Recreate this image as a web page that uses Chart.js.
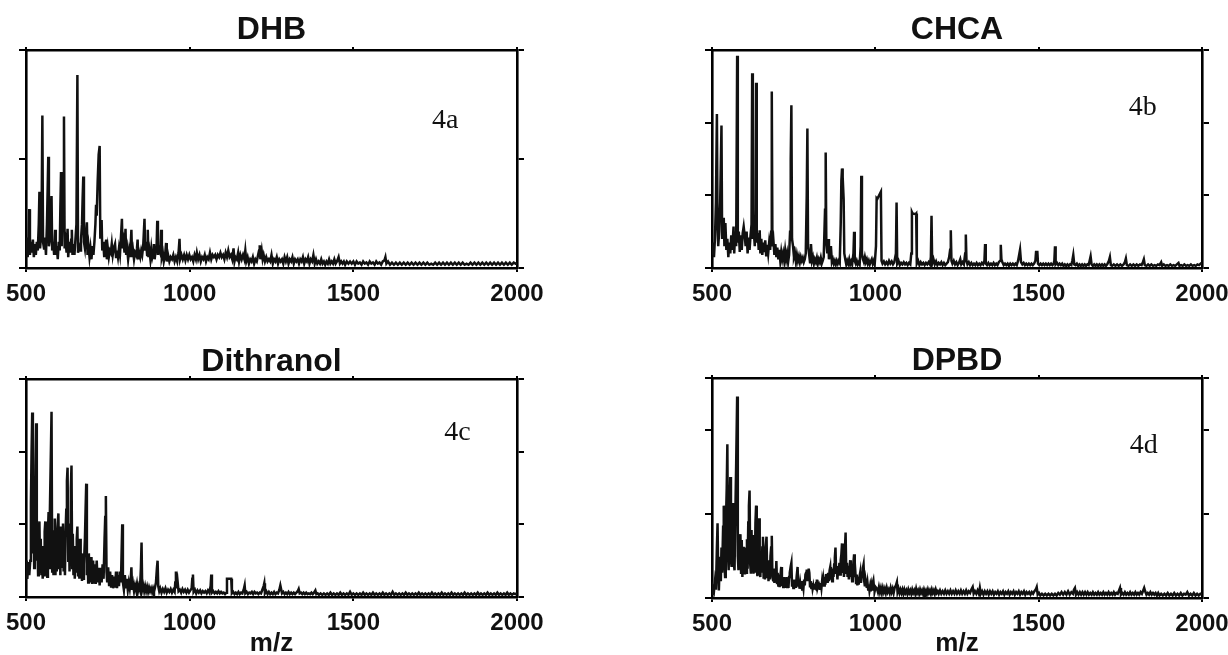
<!DOCTYPE html>
<html><head><meta charset="utf-8">
<script src="https://cdn.jsdelivr.net/npm/chart.js@4.4.1/dist/chart.umd.min.js"></script>
<style>
html,body{margin:0;padding:0;background:#fff;width:1228px;height:655px;overflow:hidden}
.p{position:absolute}
</style></head><body>
<div class="p" style="left:0;top:0;width:614px;height:327px"><canvas id="ca"></canvas></div>
<div class="p" style="left:614px;top:0;width:614px;height:327px"><canvas id="cb"></canvas></div>
<div class="p" style="left:0;top:327px;width:614px;height:328px"><canvas id="cc"></canvas></div>
<div class="p" style="left:614px;top:327px;width:614px;height:328px"><canvas id="cd"></canvas></div>
<script>
// ---- data (m/z, intensity) ----
const panelTitles = ['DHB', 'CHCA', 'Dithranol', 'DPBD'];
const panelTags = ['4a', '4b', '4c', '4d'];
const xTickValues = [500, 1000, 1500, 2000];
const yMaxes = [100, 3, 3, 2.62];
const ySteps = [50, 1, 1, 1];
const tagPositions = [[1781, 67.7], [1819, 2.2], [1818, 2.26], [1822, 1.82]];

const dhbSpectrum = [[500,8],[502,14],[505,5],[508,12],[510,27],[512,6],[515,12],[518,7],[521,13],[524,5],[527,11],[530,6],[533,12],[536,8],[539,20],[541,35],[543,9],[546,15],[548,30],[550,70],[552,12],[555,9],[558,14],[561,6],[564,20],[566,35],[568,51],[570,10],[573,13],[576,24],[578,33],[580,8],[583,12],[586,6],[589,17.5],[591,6],[594,10],[597,4],[600,12],[603,8],[605,28],[607,44],[609,10],[611,22],[614,40],[616,69.5],[618,9],[621,12],[624,7],[627,18],[629,5],[632,12],[635,7],[638,13],[640,17.5],[642,6],[645,11],[648,6],[651,13],[654,20],[657,88.5],[659,7],[662,10],[665,8],[668,13],[671,20],[673,32],[675,42],[677,12],[680,9],[683,15],[686,21],[688,6],[691,10],[694,5],[697,9],[700,4],[703,10],[706,6],[709,12],[712,20],[714,29],[716,24],[719,40],[722,52],[725,56],[727,14],[729,17],[731,22],[733,8],[736,12],[739,5],[742,10],[745,13],[747,4],[750,9],[753,5],[756,8],[759,7],[762,11],[765,6],[768,9],[772,11],[775,5],[778,8],[781,5],[784,9],[787,6],[790,14],[793,22.6],[795,9],[798,12],[801,7],[804,18],[806,6],[809,9],[812,4],[815,8],[818,5],[822,17.5],[824,5],[827,8],[830,4],[833,7],[836,6],[839,9],[841,13],[843,4],[846,7],[849,5],[852,8],[855,6],[858,10],[862,22.6],[864,8],[867,12],[870,6],[872,17.5],[874,5],[877,8],[880,4],[883,9],[886,5],[889,7],[891,11],[893,4],[896,8],[899,10],[901,21.7],[903,6],[906,9],[910,7],[913,17.5],[915,5],[918,7],[921,3],[925,6],[928,11.5],[930,3],[934,6],[938,3],[942,5],[946,4],[950,6],[954,3],[958,5],[962,3],[966,7],[969,13.4],[971,4],[975,6],[979,4],[983,6],[987,3.5],[991,6],[995,4],[999,6],[1003,4],[1007,5],[1011,3],[1015,6],[1019,4],[1022,7],[1026,4],[1030,6],[1034,3],[1038,5],[1042,4],[1046,6],[1050,3],[1054,5],[1058,4],[1062,7],[1066,4],[1070,6],[1074,5],[1078,6],[1082,4],[1086,6],[1090,5],[1094,7],[1098,5],[1102,6],[1106,4],[1110,7],[1114,5],[1118,8],[1122,5],[1126,6],[1130,4],[1134,9],[1137,3],[1140,5],[1144,4],[1148,7],[1151,3],[1155,6],[1159,4],[1163,6],[1167,4],[1170,8],[1173,3],[1177,5],[1181,2],[1185,4],[1189,3],[1193,5],[1197,2],[1201,4],[1205,3],[1209,6],[1212,8],[1214,10.4],[1216,4],[1220,8],[1223,4],[1226,6],[1230,3],[1234,5],[1238,3],[1242,4],[1246,3],[1250,6],[1254,2],[1258,4],[1262,3],[1266,5],[1270,2],[1274,4],[1278,3],[1282,4],[1286,2],[1290,5],[1294,3],[1298,5],[1302,2],[1306,4],[1310,3],[1314,5],[1318,2],[1322,4],[1326,3],[1330,4],[1334,2],[1338,4],[1342,3],[1346,5],[1350,2],[1354,4],[1358,3],[1362,5],[1366,2],[1370,4],[1374,3],[1378,6],[1382,2],[1386,4],[1390,2],[1394,3],[1398,2],[1402,4],[1406,2],[1410,3],[1414,1.5],[1418,3],[1422,2],[1426,4],[1430,2],[1434,3],[1438,2],[1442,4],[1446,2],[1450,3],[1455,5],[1459,2],[1463,3],[1467,2],[1471,3],[1475,1.5],[1480,3],[1485,2],[1490,3],[1495,2],[1500,3],[1505,1.5],[1510,3],[1515,2],[1520,2.5],[1525,1.5],[1530,3],[1535,2],[1540,2.5],[1545,1.5],[1550,3],[1555,2],[1560,2.5],[1565,1.5],[1570,3],[1575,2],[1580,2.5],[1585,1.5],[1590,3],[1595,3.5],[1598,5],[1601,2],[1606,3],[1612,1.5],[1618,2.5],[1624,1.5],[1630,2.5],[1636,1.5],[1642,2.5],[1648,1.5],[1654,2.5],[1660,1.5],[1666,2.5],[1672,1.5],[1678,2.5],[1684,1.5],[1690,2.5],[1696,1.5],[1702,2.5],[1708,1.5],[1714,2.5],[1720,1.5],[1726,2.5],[1732,1.5],[1738,2],[1744,1.5],[1750,2.5],[1756,1.5],[1762,2.5],[1768,1.5],[1774,2.5],[1780,1.5],[1786,2.5],[1792,1.5],[1798,2.5],[1804,1.5],[1810,2.5],[1816,1.5],[1822,2.5],[1828,1.5],[1834,2.5],[1840,1.5],[1846,2],[1852,1.5],[1858,2.5],[1864,1.5],[1870,2.5],[1876,1.5],[1882,2.5],[1888,1.5],[1894,2.5],[1900,1.5],[1906,2.5],[1912,1.5],[1918,2.5],[1924,1.5],[1930,2.5],[1936,1.5],[1942,2.5],[1948,1.5],[1954,2.5],[1960,1.5],[1966,2.5],[1972,1.5],[1978,2.5],[1984,1.5],[1990,2.5],[1996,2],[2000,2]];

const chcaSpectrum = [[500,0.2],[503,0.35],[506,0.15],[509,0.4],[512,0.9],[515,2.12],[517,0.6],[519,0.3],[522,0.5],[525,0.9],[529,1.96],[531,0.4],[534,0.55],[536,0.69],[538,0.3],[541,0.62],[544,0.25],[547,0.4],[550,0.15],[553,0.35],[556,0.2],[559,0.45],[562,0.25],[566,0.57],[568,0.2],[571,0.5],[574,0.3],[577,2.92],[579,0.35],[582,0.5],[585,0.22],[588,0.45],[591,0.25],[594,0.48],[597,0.57],[600,0.45],[603,0.3],[606,0.5],[609,0.2],[612,0.42],[615,0.25],[618,0.45],[621,0.6],[623,2.68],[625,0.4],[628,0.5],[631,0.3],[633,0.8],[635,2.55],[637,0.35],[640,0.48],[643,0.25],[646,0.52],[648,0.2],[651,0.4],[654,0.18],[657,0.35],[660,0.22],[663,0.38],[666,0.16],[669,0.32],[672,0.2],[675,0.35],[678,0.25],[681,0.5],[683,2.43],[685,0.3],[688,0.38],[691,0.18],[694,0.33],[697,0.15],[700,0.28],[703,0.12],[706,0.25],[709,0.1],[712,0.22],[715,0.12],[718,0.2],[721,0.1],[724,0.24],[727,0.12],[730,0.2],[733,0.08],[736,0.18],[739,0.5],[741,1.5],[743,2.24],[745,0.4],[748,0.3],[751,0.15],[754,0.2],[757,0.08],[760,0.18],[763,0.1],[766,0.16],[769,0.08],[772,0.15],[775,0.1],[778,0.14],[781,0.08],[784,0.12],[787,0.2],[790,1.0],[792,1.92],[794,0.3],[797,0.2],[800,0.08],[803,0.33],[806,0.1],[809,0.15],[812,0.06],[815,0.12],[818,0.08],[821,0.14],[824,0.06],[827,0.12],[830,0.08],[833,0.14],[836,0.06],[839,0.1],[842,0.15],[846,0.8],[848,1.59],[850,0.35],[853,0.2],[856,0.4],[858,0.12],[861,0.2],[864,0.3],[867,0.08],[870,0.12],[873,0.06],[876,0.1],[879,0.05],[882,0.1],[885,0.06],[888,0.1],[891,0.07],[894,0.6],[896,1.2],[898,1.37],[900,1.25],[903,0.95],[905,0.2],[908,0.12],[911,0.05],[914,0.1],[917,0.06],[920,0.12],[923,0.05],[926,0.09],[929,0.05],[933,0.2],[935,0.5],[937,0.1],[940,0.06],[943,0.1],[946,0.05],[949,0.08],[952,0.05],[955,0.3],[957,1.27],[959,0.2],[962,0.12],[965,0.08],[968,0.15],[971,0.08],[974,0.12],[977,0.06],[980,0.1],[983,0.05],[986,0.09],[989,0.12],[992,0.06],[995,0.1],[998,0.05],[1002,0.3],[1004,0.96],[1006,0.95],[1017,1.05],[1019,0.1],[1022,0.06],[1026,0.09],[1030,0.05],[1034,0.08],[1038,0.05],[1042,0.1],[1046,0.06],[1050,0.09],[1054,0.05],[1058,0.08],[1063,0.2],[1065,0.9],[1067,0.06],[1071,0.1],[1075,0.04],[1079,0.07],[1083,0.05],[1087,0.08],[1091,0.05],[1095,0.07],[1099,0.04],[1103,0.07],[1107,0.05],[1110,0.2],[1112,0.77],[1114,0.75],[1123,0.74],[1125,0.75],[1127,0.06],[1131,0.1],[1135,0.04],[1139,0.08],[1143,0.05],[1147,0.07],[1151,0.04],[1155,0.07],[1159,0.05],[1163,0.08],[1167,0.05],[1170,0.15],[1172,0.72],[1174,0.06],[1178,0.12],[1182,0.05],[1186,0.09],[1190,0.04],[1194,0.07],[1198,0.05],[1202,0.08],[1206,0.04],[1210,0.07],[1214,0.04],[1218,0.06],[1222,0.08],[1226,0.15],[1229,0.25],[1231,0.52],[1233,0.1],[1236,0.06],[1240,0.1],[1244,0.05],[1248,0.08],[1252,0.04],[1256,0.07],[1260,0.12],[1263,0.05],[1267,0.08],[1271,0.05],[1275,0.2],[1277,0.46],[1279,0.1],[1282,0.05],[1286,0.08],[1290,0.04],[1294,0.07],[1298,0.04],[1302,0.06],[1306,0.04],[1310,0.07],[1314,0.04],[1318,0.06],[1322,0.04],[1326,0.07],[1330,0.05],[1334,0.1],[1336,0.33],[1338,0.06],[1342,0.04],[1346,0.07],[1350,0.04],[1354,0.06],[1358,0.04],[1362,0.07],[1366,0.04],[1370,0.06],[1374,0.04],[1378,0.08],[1382,0.1],[1384,0.32],[1386,0.12],[1389,0.08],[1393,0.04],[1397,0.06],[1401,0.04],[1405,0.06],[1409,0.03],[1413,0.06],[1417,0.04],[1421,0.06],[1425,0.04],[1429,0.06],[1433,0.04],[1437,0.1],[1441,0.2],[1443,0.25],[1446,0.08],[1450,0.05],[1454,0.07],[1458,0.04],[1462,0.06],[1466,0.04],[1470,0.06],[1474,0.04],[1478,0.06],[1482,0.04],[1486,0.06],[1490,0.1],[1492,0.22],[1496,0.22],[1498,0.06],[1502,0.04],[1506,0.06],[1510,0.04],[1514,0.06],[1518,0.04],[1522,0.06],[1526,0.04],[1530,0.06],[1534,0.04],[1538,0.06],[1542,0.04],[1546,0.06],[1548,0.1],[1550,0.3],[1552,0.05],[1556,0.07],[1560,0.04],[1564,0.06],[1568,0.04],[1572,0.06],[1576,0.03],[1580,0.05],[1584,0.03],[1588,0.05],[1592,0.03],[1596,0.05],[1600,0.04],[1603,0.1],[1606,0.18],[1609,0.05],[1613,0.04],[1617,0.06],[1621,0.03],[1625,0.05],[1629,0.03],[1633,0.05],[1637,0.03],[1641,0.05],[1645,0.03],[1649,0.05],[1653,0.04],[1656,0.1],[1659,0.16],[1662,0.05],[1666,0.03],[1670,0.05],[1674,0.03],[1678,0.05],[1682,0.03],[1686,0.05],[1690,0.03],[1694,0.05],[1698,0.03],[1702,0.05],[1706,0.03],[1710,0.05],[1715,0.1],[1718,0.15],[1721,0.04],[1725,0.03],[1730,0.05],[1735,0.03],[1740,0.05],[1745,0.03],[1750,0.05],[1755,0.03],[1760,0.05],[1764,0.08],[1767,0.13],[1770,0.04],[1775,0.03],[1780,0.05],[1785,0.03],[1790,0.05],[1795,0.03],[1800,0.05],[1805,0.03],[1810,0.05],[1815,0.04],[1819,0.08],[1822,0.12],[1825,0.04],[1830,0.03],[1835,0.05],[1840,0.03],[1845,0.05],[1850,0.03],[1855,0.04],[1860,0.03],[1865,0.05],[1870,0.04],[1875,0.08],[1878,0.03],[1883,0.05],[1888,0.03],[1893,0.04],[1898,0.03],[1903,0.05],[1908,0.03],[1913,0.04],[1918,0.03],[1923,0.05],[1928,0.07],[1931,0.03],[1936,0.04],[1941,0.03],[1946,0.05],[1951,0.03],[1956,0.04],[1961,0.03],[1966,0.05],[1971,0.03],[1976,0.04],[1981,0.03],[1986,0.05],[1991,0.04],[1996,0.06],[2000,0.05]];

const dithranolSpectrum = [[500,0.35],[502,0.5],[504,0.25],[507,0.48],[510,0.3],[513,0.5],[515,1.3],[517,2.0],[519,2.54],[521,0.6],[523,1.29],[525,0.4],[527,0.9],[529,1.8],[531,2.39],[533,0.5],[535,0.74],[537,0.3],[539,0.85],[541,1.04],[543,0.35],[545,0.8],[547,0.3],[549,0.55],[551,0.25],[553,0.7],[555,0.3],[557,0.9],[559,1.04],[561,0.3],[563,0.6],[565,0.28],[567,0.9],[569,1.17],[571,0.4],[573,1.2],[576,2.0],[578,2.55],[580,0.35],[582,0.6],[584,0.3],[586,0.9],[588,1.08],[590,0.3],[592,0.8],[594,0.35],[596,0.95],[599,1.15],[601,0.4],[603,0.85],[605,0.3],[607,0.97],[609,0.4],[611,0.9],[613,1.01],[615,0.35],[617,0.8],[619,0.3],[621,0.9],[623,1.2],[625,1.6],[627,1.78],[629,0.5],[631,1.01],[633,0.35],[635,0.9],[637,1.5],[639,1.81],[641,0.4],[643,0.87],[645,0.3],[647,0.7],[649,0.25],[651,0.6],[653,0.35],[655,0.8],[657,0.97],[659,0.3],[661,0.55],[663,0.25],[665,0.8],[667,0.3],[669,0.6],[671,0.22],[673,0.5],[675,0.25],[677,0.45],[680,0.8],[682,1.2],[684,1.56],[686,0.3],[688,0.55],[690,0.2],[692,0.6],[694,0.25],[696,0.5],[698,0.2],[700,0.55],[702,0.18],[705,0.5],[708,0.2],[710,0.45],[713,0.18],[716,0.5],[719,0.2],[722,0.4],[725,0.16],[728,0.4],[731,0.2],[734,0.45],[737,0.25],[740,0.8],[742,1.1],[744,1.39],[746,0.35],[748,0.2],[751,0.41],[754,0.15],[757,0.35],[760,0.13],[763,0.3],[766,0.12],[769,0.28],[772,0.13],[775,0.35],[778,0.12],[781,0.3],[784,0.15],[787,0.35],[790,0.2],[792,0.6],[794,1.0],[796,0.2],[799,0.1],[802,0.3],[805,0.12],[808,0.25],[811,0.1],[814,0.2],[817,0.12],[820,0.25],[822,0.41],[824,0.1],[827,0.18],[830,0.08],[833,0.16],[836,0.1],[839,0.18],[842,0.08],[845,0.15],[848,0.1],[851,0.4],[853,0.75],[855,0.1],[858,0.16],[861,0.08],[864,0.15],[867,0.08],[870,0.14],[873,0.07],[876,0.13],[879,0.08],[882,0.12],[885,0.07],[888,0.12],[891,0.07],[894,0.13],[897,0.2],[900,0.4],[902,0.5],[904,0.15],[907,0.08],[910,0.12],[914,0.06],[918,0.11],[922,0.07],[926,0.12],[930,0.06],[934,0.1],[938,0.07],[942,0.11],[946,0.06],[950,0.1],[954,0.07],[956,0.2],[958,0.35],[960,0.12],[963,0.22],[966,0.08],[970,0.1],[974,0.06],[978,0.11],[982,0.07],[986,0.1],[990,0.06],[994,0.1],[998,0.06],[1002,0.09],[1006,0.12],[1008,0.25],[1010,0.31],[1012,0.07],[1016,0.1],[1020,0.05],[1024,0.09],[1028,0.06],[1032,0.09],[1036,0.05],[1040,0.08],[1044,0.06],[1048,0.08],[1052,0.05],[1056,0.09],[1060,0.06],[1064,0.15],[1066,0.31],[1068,0.06],[1072,0.08],[1076,0.05],[1080,0.07],[1084,0.05],[1088,0.08],[1092,0.05],[1096,0.07],[1100,0.05],[1104,0.06],[1108,0.04],[1112,0.06],[1114,0.25],[1127,0.25],[1129,0.05],[1133,0.07],[1137,0.04],[1141,0.06],[1145,0.04],[1149,0.07],[1153,0.04],[1157,0.06],[1161,0.05],[1165,0.1],[1168,0.16],[1170,0.05],[1174,0.07],[1178,0.04],[1182,0.06],[1186,0.05],[1190,0.07],[1194,0.04],[1198,0.07],[1202,0.05],[1206,0.06],[1210,0.04],[1214,0.06],[1218,0.05],[1222,0.1],[1226,0.15],[1228,0.19],[1230,0.05],[1234,0.08],[1238,0.04],[1242,0.07],[1246,0.04],[1250,0.06],[1254,0.04],[1258,0.07],[1262,0.04],[1266,0.06],[1270,0.05],[1274,0.1],[1277,0.16],[1279,0.16],[1282,0.05],[1286,0.07],[1290,0.04],[1294,0.06],[1298,0.04],[1302,0.07],[1306,0.04],[1310,0.06],[1314,0.04],[1318,0.06],[1322,0.04],[1326,0.06],[1330,0.08],[1333,0.11],[1336,0.05],[1340,0.06],[1344,0.04],[1348,0.06],[1352,0.04],[1356,0.06],[1360,0.04],[1364,0.05],[1368,0.04],[1372,0.06],[1376,0.04],[1380,0.06],[1384,0.09],[1387,0.04],[1391,0.05],[1395,0.03],[1400,0.05],[1405,0.03],[1410,0.05],[1415,0.03],[1420,0.05],[1425,0.03],[1430,0.06],[1435,0.03],[1440,0.05],[1445,0.03],[1450,0.05],[1455,0.03],[1460,0.06],[1465,0.03],[1470,0.05],[1475,0.03],[1480,0.05],[1485,0.03],[1490,0.07],[1495,0.03],[1500,0.05],[1505,0.03],[1510,0.05],[1515,0.03],[1520,0.05],[1525,0.03],[1530,0.06],[1535,0.03],[1540,0.05],[1545,0.03],[1550,0.05],[1555,0.03],[1560,0.06],[1565,0.03],[1570,0.05],[1575,0.03],[1580,0.05],[1585,0.03],[1590,0.06],[1595,0.03],[1600,0.05],[1605,0.03],[1610,0.05],[1615,0.03],[1620,0.07],[1625,0.03],[1630,0.05],[1635,0.03],[1640,0.05],[1645,0.03],[1650,0.05],[1655,0.03],[1660,0.06],[1665,0.03],[1670,0.05],[1675,0.03],[1680,0.05],[1685,0.03],[1690,0.05],[1695,0.03],[1700,0.06],[1705,0.03],[1710,0.05],[1715,0.03],[1720,0.05],[1725,0.03],[1730,0.05],[1735,0.03],[1740,0.06],[1745,0.03],[1750,0.05],[1755,0.03],[1760,0.05],[1765,0.03],[1770,0.06],[1775,0.03],[1780,0.05],[1785,0.03],[1790,0.05],[1795,0.03],[1800,0.06],[1805,0.03],[1810,0.05],[1815,0.03],[1820,0.05],[1825,0.03],[1830,0.05],[1835,0.03],[1840,0.06],[1845,0.03],[1850,0.05],[1855,0.03],[1860,0.05],[1865,0.03],[1870,0.05],[1875,0.03],[1880,0.06],[1885,0.03],[1890,0.05],[1895,0.03],[1900,0.05],[1905,0.03],[1910,0.06],[1915,0.03],[1920,0.05],[1925,0.03],[1930,0.05],[1935,0.03],[1940,0.06],[1945,0.03],[1950,0.05],[1955,0.03],[1960,0.05],[1965,0.03],[1970,0.06],[1975,0.03],[1980,0.05],[1985,0.03],[1990,0.05],[1995,0.04],[2000,0.05]];

const dpbdSpectrum = [[500,0.05],[503,0.12],[506,0.08],[509,0.2],[512,0.1],[515,0.6],[517,0.89],[519,0.3],[521,0.09],[523,0.35],[525,0.49],[527,0.2],[529,0.6],[531,0.3],[534,0.85],[536,1.1],[538,0.4],[540,0.25],[542,0.8],[545,1.3],[547,1.83],[549,0.5],[551,0.33],[553,0.9],[556,1.44],[558,0.45],[560,0.37],[562,0.8],[565,1.13],[567,0.4],[569,0.33],[571,0.9],[574,1.6],[577,2.4],[579,0.5],[581,0.33],[583,0.6],[585,0.7],[587,0.76],[589,0.3],[591,0.69],[593,0.25],[595,0.61],[597,0.3],[599,0.55],[601,0.28],[603,0.6],[605,0.3],[607,0.7],[609,0.35],[611,0.9],[613,1.1],[615,1.28],[617,0.4],[619,0.29],[621,0.81],[623,0.35],[625,0.6],[627,0.29],[629,0.75],[631,0.3],[633,0.9],[635,1.1],[637,0.35],[639,0.26],[641,0.7],[644,0.95],[646,0.3],[648,0.25],[650,0.55],[652,0.3],[654,0.6],[656,0.73],[658,0.23],[660,0.45],[662,0.22],[664,0.6],[667,0.73],[669,0.25],[671,0.45],[673,0.2],[675,0.4],[677,0.22],[679,0.5],[681,0.6],[683,0.74],[685,0.25],[687,0.21],[689,0.35],[691,0.18],[693,0.3],[695,0.2],[697,0.44],[699,0.18],[701,0.3],[703,0.15],[705,0.28],[707,0.13],[709,0.25],[712,0.37],[714,0.14],[716,0.22],[718,0.13],[720,0.25],[722,0.12],[724,0.2],[726,0.12],[728,0.25],[730,0.13],[732,0.22],[734,0.12],[736,0.25],[738,0.3],[741,0.38],[743,0.42],[745,0.15],[747,0.22],[749,0.12],[751,0.2],[753,0.13],[755,0.22],[757,0.12],[759,0.25],[762,0.37],[764,0.15],[766,0.2],[768,0.11],[770,0.18],[772,0.12],[774,0.2],[776,0.1],[778,0.18],[780,0.12],[782,0.22],[784,0.15],[786,0.28],[788,0.3],[790,0.34],[792,0.2],[794,0.28],[796,0.35],[798,0.3],[800,0.14],[802,0.2],[804,0.12],[806,0.18],[808,0.11],[810,0.15],[812,0.1],[814,0.14],[817,0.12],[819,0.18],[821,0.22],[823,0.12],[825,0.15],[827,0.1],[829,0.14],[831,0.11],[833,0.18],[835,0.12],[837,0.2],[839,0.14],[841,0.22],[843,0.15],[845,0.25],[847,0.16],[849,0.27],[852,0.29],[854,0.18],[856,0.3],[858,0.2],[860,0.33],[862,0.37],[864,0.22],[866,0.3],[868,0.2],[870,0.35],[872,0.25],[874,0.4],[876,0.48],[878,0.6],[880,0.3],[882,0.35],[884,0.22],[886,0.38],[888,0.3],[890,0.42],[892,0.28],[894,0.45],[896,0.52],[898,0.65],[900,0.3],[902,0.4],[904,0.25],[906,0.5],[909,0.78],[911,0.3],[913,0.42],[915,0.25],[917,0.38],[919,0.22],[921,0.35],[923,0.45],[925,0.25],[927,0.35],[929,0.2],[931,0.3],[933,0.42],[935,0.52],[937,0.25],[939,0.3],[941,0.18],[943,0.28],[945,0.15],[947,0.25],[949,0.16],[951,0.24],[954,0.31],[956,0.18],[958,0.25],[960,0.3],[962,0.36],[964,0.4],[966,0.2],[968,0.14],[970,0.22],[972,0.17],[974,0.12],[976,0.18],[978,0.1],[980,0.16],[982,0.09],[984,0.14],[986,0.08],[988,0.15],[990,0.1],[992,0.18],[994,0.21],[996,0.12],[998,0.08],[1001,0.13],[1005,0.11],[1008,0.07],[1011,0.13],[1014,0.07],[1017,0.12],[1020,0.06],[1023,0.12],[1026,0.07],[1029,0.11],[1032,0.06],[1035,0.12],[1038,0.07],[1041,0.1],[1044,0.06],[1047,0.12],[1050,0.07],[1053,0.11],[1056,0.06],[1059,0.12],[1063,0.15],[1066,0.19],[1068,0.07],[1071,0.11],[1074,0.06],[1077,0.1],[1080,0.06],[1083,0.1],[1086,0.05],[1089,0.1],[1092,0.06],[1095,0.09],[1098,0.05],[1101,0.1],[1104,0.06],[1107,0.09],[1110,0.05],[1113,0.1],[1116,0.06],[1119,0.09],[1122,0.05],[1125,0.11],[1128,0.06],[1131,0.09],[1134,0.05],[1137,0.1],[1140,0.06],[1143,0.09],[1146,0.05],[1149,0.1],[1152,0.06],[1155,0.09],[1158,0.05],[1161,0.1],[1164,0.06],[1167,0.09],[1170,0.05],[1173,0.1],[1176,0.06],[1179,0.09],[1182,0.05],[1185,0.1],[1188,0.06],[1191,0.08],[1194,0.05],[1198,0.09],[1202,0.05],[1206,0.08],[1210,0.05],[1214,0.09],[1218,0.05],[1222,0.08],[1226,0.05],[1230,0.09],[1234,0.05],[1238,0.08],[1242,0.05],[1246,0.09],[1250,0.05],[1254,0.08],[1258,0.05],[1262,0.09],[1266,0.05],[1270,0.08],[1274,0.05],[1278,0.09],[1282,0.05],[1286,0.08],[1290,0.06],[1294,0.1],[1298,0.13],[1301,0.05],[1305,0.08],[1309,0.05],[1313,0.09],[1317,0.05],[1320,0.12],[1323,0.05],[1327,0.08],[1331,0.04],[1335,0.08],[1339,0.05],[1343,0.08],[1347,0.04],[1351,0.08],[1355,0.05],[1359,0.08],[1363,0.04],[1367,0.07],[1371,0.05],[1375,0.08],[1379,0.04],[1383,0.07],[1387,0.05],[1391,0.08],[1395,0.04],[1399,0.07],[1403,0.05],[1407,0.08],[1411,0.04],[1415,0.07],[1419,0.05],[1423,0.08],[1427,0.04],[1431,0.07],[1435,0.05],[1439,0.08],[1443,0.04],[1447,0.07],[1451,0.05],[1455,0.08],[1459,0.04],[1463,0.07],[1467,0.05],[1471,0.07],[1475,0.04],[1479,0.07],[1483,0.05],[1487,0.08],[1491,0.1],[1494,0.13],[1497,0.04],[1501,0.06],[1505,0.03],[1510,0.05],[1515,0.03],[1520,0.05],[1525,0.03],[1530,0.05],[1535,0.03],[1540,0.05],[1545,0.03],[1550,0.05],[1555,0.03],[1560,0.06],[1565,0.04],[1570,0.07],[1575,0.04],[1580,0.07],[1585,0.04],[1590,0.08],[1595,0.04],[1600,0.07],[1605,0.05],[1608,0.1],[1611,0.12],[1614,0.04],[1618,0.07],[1622,0.04],[1626,0.07],[1630,0.04],[1634,0.07],[1638,0.04],[1642,0.07],[1646,0.04],[1650,0.07],[1654,0.04],[1658,0.06],[1662,0.04],[1666,0.07],[1670,0.04],[1674,0.06],[1678,0.04],[1682,0.07],[1686,0.04],[1690,0.06],[1694,0.04],[1698,0.07],[1702,0.04],[1706,0.06],[1710,0.04],[1714,0.07],[1718,0.04],[1722,0.06],[1726,0.04],[1730,0.07],[1734,0.04],[1738,0.06],[1742,0.05],[1746,0.09],[1749,0.12],[1752,0.04],[1756,0.06],[1760,0.04],[1764,0.07],[1768,0.04],[1772,0.06],[1776,0.04],[1780,0.07],[1784,0.04],[1788,0.06],[1792,0.04],[1796,0.07],[1800,0.04],[1804,0.06],[1808,0.04],[1812,0.07],[1816,0.05],[1820,0.09],[1823,0.12],[1826,0.08],[1830,0.04],[1834,0.06],[1838,0.04],[1842,0.07],[1846,0.04],[1850,0.06],[1854,0.04],[1858,0.06],[1862,0.03],[1866,0.06],[1870,0.03],[1875,0.05],[1880,0.03],[1885,0.05],[1890,0.03],[1895,0.06],[1900,0.03],[1905,0.05],[1910,0.03],[1915,0.06],[1920,0.03],[1925,0.05],[1930,0.03],[1935,0.06],[1940,0.03],[1945,0.05],[1950,0.04],[1955,0.07],[1960,0.03],[1965,0.05],[1970,0.03],[1975,0.06],[1980,0.03],[1985,0.05],[1990,0.03],[1995,0.05],[2000,0.04]];

const spectra = [dhbSpectrum, chcaSpectrum, dithranolSpectrum, dpbdSpectrum];

// ---- layout per panel (axis box sizes so the frames land where the reference has them) ----
const layouts = [
  {id:'ca', yL:26, yR:97, top:4, bottom:59, tPadTop:14, tPadBot:0, xTitle:false},
  {id:'cb', yL:98, yR:26, top:4, bottom:59, tPadTop:14, tPadBot:0, xTitle:false},
  {id:'cc', yL:26, yR:97, top:1, bottom:58, tPadTop:19, tPadBot:0, xTitle:true},
  {id:'cd', yL:98, yR:26, top:1, bottom:57, tPadTop:18, tPadBot:0, xTitle:true}
];

const SANS = '"Liberation Sans", Arial, Helvetica, sans-serif';
const INK = '#111111';

const tagPlugin = {
  id: 'tag',
  afterDatasetsDraw(chart, args, opts) {
    const {ctx, scales} = chart;
    ctx.save();
    ctx.font = opts.font;
    ctx.fillStyle = INK;
    ctx.textAlign = 'center';
    ctx.textBaseline = 'middle';
    ctx.fillText(opts.text, scales.x.getPixelForValue(opts.x), scales.y.getPixelForValue(opts.y));
    ctx.restore();
  }
};

function fixW(w){ return s => { s.width = w; s.paddingTop = 0; s.paddingBottom = 0; s.paddingLeft = 0; s.paddingRight = 0; }; }
function fixH(h){ return s => { s.height = h; s.paddingTop = 0; s.paddingBottom = 0; s.paddingLeft = 0; s.paddingRight = 0; }; }

layouts.forEach((L, i) => {
  const frame = {display: true, color: '#000', width: 2.6};
  new Chart(document.getElementById(L.id), {
    type: 'line',
    data: {
      datasets: [{
        data: spectra[i].map(p => ({x: p[0], y: p[1]})),
        borderColor: INK,
        borderWidth: 2.5,
        pointRadius: 0,
        tension: 0,
        fill: false
      }]
    },
    options: {
      responsive: true,
      maintainAspectRatio: false,
      animation: false,
      events: [],
      layout: {padding: 0, autoPadding: false},
      plugins: {
        legend: {display: false},
        tooltip: {enabled: false},
        title: {
          display: true,
          fullSize: false,
          text: panelTitles[i],
          color: INK,
          font: {family: SANS, size: 32, weight: 'bold', lineHeight: 1},
          padding: {top: L.tPadTop, bottom: L.tPadBot}
        },
        tag: {text: panelTags[i], x: tagPositions[i][0], y: tagPositions[i][1], font: '28px "Liberation Serif", "Times New Roman", serif'}
      },
      scales: {
        x: {
          type: 'linear', position: 'bottom', min: 500, max: 2000,
          afterBuildTicks: s => { s.ticks = xTickValues.map(v => ({value: v})); },
          afterFit: fixH(L.bottom),
          border: frame,
          grid: {drawOnChartArea: false, drawTicks: true, tickLength: 4, color: '#000', lineWidth: 2},
          ticks: {color: INK, padding: 10, maxRotation: 0, font: {family: SANS, size: 24, weight: 'bold', lineHeight: 1}, callback: v => String(v)},
          title: {display: L.xTitle, text: 'm/z', color: INK, font: {family: SANS, size: 26, weight: 'bold', lineHeight: 0.85}, padding: {top: 0, bottom: 0}}
        },
        x2: {
          type: 'linear', position: 'top', min: 500, max: 2000,
          afterBuildTicks: s => { s.ticks = xTickValues.map(v => ({value: v})); },
          afterFit: fixH(L.top),
          border: frame,
          grid: {drawOnChartArea: false, drawTicks: true, tickLength: 3, color: '#000', lineWidth: 2},
          ticks: {display: false}
        },
        y: {
          type: 'linear', position: 'left', min: 0, max: yMaxes[i],
          afterFit: fixW(L.yL),
          border: frame,
          grid: {drawOnChartArea: false, drawTicks: true, tickLength: 7, color: '#000', lineWidth: 2},
          ticks: {display: false, stepSize: ySteps[i]}
        },
        y2: {
          type: 'linear', position: 'right', min: 0, max: yMaxes[i],
          afterFit: fixW(L.yR),
          border: frame,
          grid: {drawOnChartArea: false, drawTicks: true, tickLength: 7, color: '#000', lineWidth: 2},
          ticks: {display: false, stepSize: ySteps[i]}
        }
      }
    },
    plugins: [tagPlugin]
  });
});
</script>
</body></html>
